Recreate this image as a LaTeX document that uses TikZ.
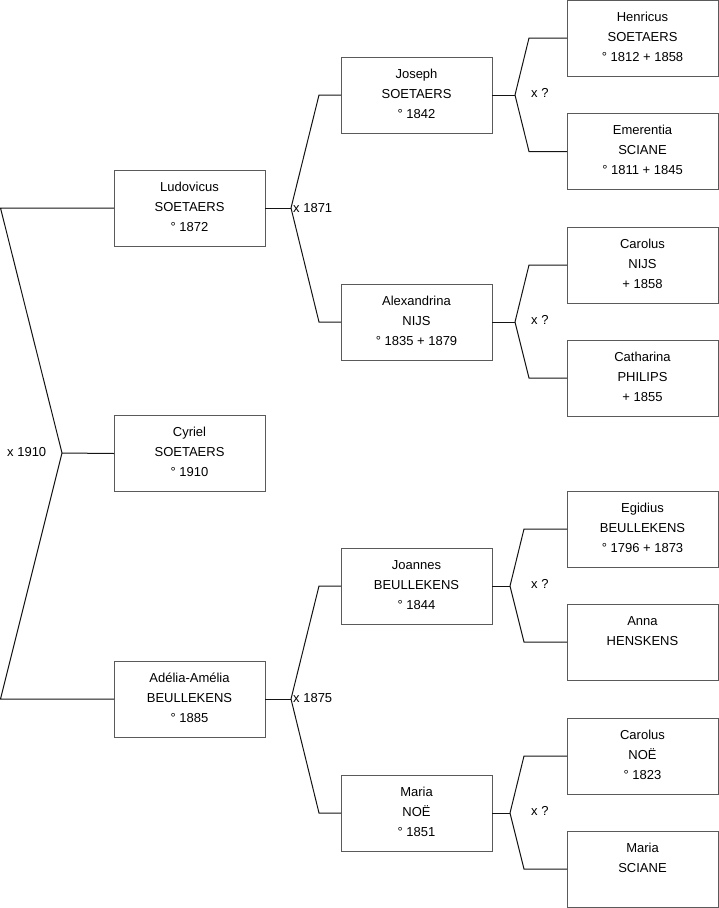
\documentclass[tikz,border=0pt]{standalone}
\usepackage{fontspec}
\setmainfont{Liberation Sans}
\definecolor{boxc}{RGB}{90,90,90}
\definecolor{linec}{RGB}{20,20,20}
\begin{document}
\begin{tikzpicture}[x=1pt,y=-1pt,
  pbox/.style={draw=boxc, line width=1pt, minimum width=151pt, minimum height=76pt, inner sep=0pt, outer sep=0pt},
  ptxt/.style={anchor=north, inner sep=0pt, align=center, font=\fontsize{13}{20}\selectfont},
  lbl/.style={anchor=west, inner sep=0pt, font=\fontsize{13}{15}\selectfont},
  conn/.style={draw=linec, line width=1pt}]
\useasboundingbox (0,0) rectangle (719,908);
% column 1
\node[pbox] (lud) at (189.5,208) {};
\node[ptxt] (ludt) at (lud.north) {\rule{0pt}{21pt}Ludovicus\\SOETAERS\\° 1872};
\node[pbox] (cyr) at (189.5,453.5) {};
\node[ptxt] (cyrt) at (cyr.north) {\rule{0pt}{21pt}Cyriel\\SOETAERS\\° 1910};
\node[pbox] (ade) at (189.5,699) {};
\node[ptxt] (adet) at (ade.north) {\rule{0pt}{21pt}Adélia-Amélia\\BEULLEKENS\\° 1885};
% column 2
\node[pbox] (jos) at (416.5,95) {};
\node[ptxt] (jost) at (jos.north) {\rule{0pt}{21pt}Joseph\\SOETAERS\\° 1842};
\node[pbox] (ale) at (416.5,322) {};
\node[ptxt] (alet) at (ale.north) {\rule{0pt}{21pt}Alexandrina\\NIJS\\° 1835 + 1879};
\node[pbox] (joa) at (416.5,586) {};
\node[ptxt] (joat) at (joa.north) {\rule{0pt}{21pt}Joannes\\BEULLEKENS\\° 1844};
\node[pbox] (man) at (416.5,813) {};
\node[ptxt] (mant) at (man.north) {\rule{0pt}{21pt}Maria\\NOË\\° 1851};
% column 3
\node[pbox] (hen) at (642.5,38) {};
\node[ptxt] (hent) at (hen.north) {\rule{0pt}{21pt}Henricus\\SOETAERS\\° 1812 + 1858};
\node[pbox] (eme) at (642.5,151.5) {};
\node[ptxt] (emet) at (eme.north) {\rule{0pt}{21pt}Emerentia\\SCIANE\\° 1811 + 1845};
\node[pbox] (can) at (642.5,265) {};
\node[ptxt] (cant) at (can.north) {\rule{0pt}{21pt}Carolus\\NIJS\\+ 1858};
\node[pbox] (cat) at (642.5,378) {};
\node[ptxt] (catt) at (cat.north) {\rule{0pt}{21pt}Catharina\\PHILIPS\\+ 1855};
\node[pbox] (egi) at (642.5,529) {};
\node[ptxt] (egit) at (egi.north) {\rule{0pt}{21pt}Egidius\\BEULLEKENS\\° 1796 + 1873};
\node[pbox] (ann) at (642.5,642) {};
\node[ptxt] (annt) at (ann.north) {\rule{0pt}{21pt}Anna\\HENSKENS};
\node[pbox] (cno) at (642.5,756) {};
\node[ptxt] (cnot) at (cno.north) {\rule{0pt}{21pt}Carolus\\NOË\\° 1823};
\node[pbox] (msc) at (642.5,869) {};
\node[ptxt] (msct) at (msc.north) {\rule{0pt}{21pt}Maria\\SCIANE};
% junction coordinates
\coordinate (a0) at (0.5,208);
\coordinate (b0) at (0.5,699);
\coordinate (j0) at (62,453);
\coordinate (j1) at (291,208);
\coordinate (j2) at (291,699);
\coordinate (j3) at (515,95);
\coordinate (j4) at (515,322);
\coordinate (j5) at (510,586);
\coordinate (j6) at (510,813);
% column 0 connectors
\draw[conn] (lud.west) -- (a0) -- (j0) -- (b0) -- (ade.west);
\draw[conn] (j0) -- (cyr.west);
\node[lbl] (m0) at (7,452) {x 1910};
% column 1 -> 2
\draw[conn] (lud.east) -- (j1);
\draw[conn] (j1) -- (319,95) -- (jos.west);
\draw[conn] (j1) -- (319,322) -- (ale.west);
\node[lbl] (m1) at (293,208) {x 1871};
\draw[conn] (ade.east) -- (j2);
\draw[conn] (j2) -- (319,586) -- (joa.west);
\draw[conn] (j2) -- (319,813) -- (man.west);
\node[lbl] (m2) at (293,698) {x 1875};
% column 2 -> 3
\draw[conn] (jos.east) -- (j3);
\draw[conn] (j3) -- (529,38) -- (hen.west);
\draw[conn] (j3) -- (529,151.5) -- (eme.west);
\node[lbl] (m3) at (531,93) {x ?};
\draw[conn] (ale.east) -- (j4);
\draw[conn] (j4) -- (529,265) -- (can.west);
\draw[conn] (j4) -- (529,378) -- (cat.west);
\node[lbl] (m4) at (531,320) {x ?};
\draw[conn] (joa.east) -- (j5);
\draw[conn] (j5) -- (524,529) -- (egi.west);
\draw[conn] (j5) -- (524,642) -- (ann.west);
\node[lbl] (m5) at (531,584) {x ?};
\draw[conn] (man.east) -- (j6);
\draw[conn] (j6) -- (524,756) -- (cno.west);
\draw[conn] (j6) -- (524,869) -- (msc.west);
\node[lbl] (m6) at (531,811) {x ?};
\end{tikzpicture}
\end{document}
